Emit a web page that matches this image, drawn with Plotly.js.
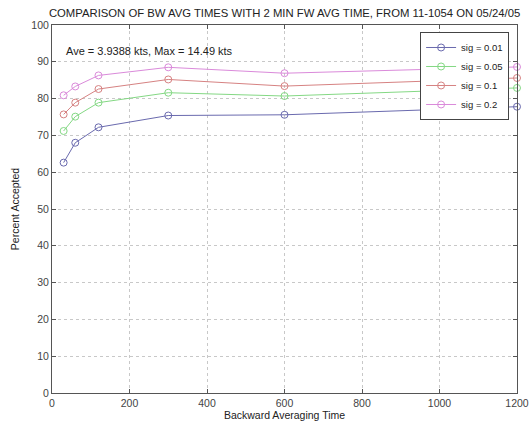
<!DOCTYPE html>
<html>
<head>
<meta charset="utf-8">
<script src="https://cdn.plot.ly/plotly-3.0.1.min.js"></script>
<style>html,body{margin:0;padding:0;background:#fff;}#chart{width:531px;height:421px;}</style>
</head>
<body>
<div id="chart"></div>
<script>
const bwTimes = [30, 60, 120, 300, 600, 1200];
const sig001 = [62.6, 68.0, 72.2, 75.4, 75.6, 77.8];
const sig005 = [71.2, 75.1, 78.9, 81.6, 80.7, 82.9];
const sig01  = [75.7, 78.9, 82.6, 85.2, 83.4, 85.6];
const sig02  = [80.9, 83.3, 86.3, 88.5, 86.9, 88.6];
const seriesNames = ['sig = 0.01', 'sig = 0.05', 'sig = 0.1', 'sig = 0.2'];
const seriesColors = ['#6a6aae', '#84d884', '#d68282', '#da8ada'];
const xTicks = [0, 200, 400, 600, 800, 1000, 1200];
const yTicks = [0, 10, 20, 30, 40, 50, 60, 70, 80, 90, 100];
const titleText = 'COMPARISON OF BW AVG TIMES WITH 2 MIN FW AVG TIME, FROM 11-1054 ON 05/24/05';
const noteText = 'Ave = 3.9388 kts, Max = 14.49 kts';

const allSeries = [sig001, sig005, sig01, sig02];
const traces = allSeries.map((ys, i) => ({
  x: bwTimes, y: ys, name: seriesNames[i], type: 'scatter', mode: 'lines+markers', cliponaxis: false,
  line: {color: seriesColors[i], width: 1},
  marker: {symbol: 'circle-open', size: 7, color: seriesColors[i], line: {width: 1, color: seriesColors[i]}}
}));

const fontFam = 'Liberation Sans, Arial, sans-serif';
const layout = {
  width: 531, height: 421,
  paper_bgcolor: '#fff', plot_bgcolor: '#fff',
  margin: {l: 52, r: 14, t: 25, b: 28},
  font: {family: fontFam, size: 10, color: '#333'},
  title: {text: titleText, font: {family: fontFam, size: 11.3, color: '#222'}, x: 0.536, xanchor: 'center', y: 0.968, yanchor: 'middle'},
  showlegend: true,
  legend: {x: 0.983, xanchor: 'right', y: 0.981, yanchor: 'top', bgcolor: '#fff', bordercolor: '#444', borderwidth: 1,
    font: {family: fontFam, size: 9.5, color: '#222'}, tracegroupgap: 0, itemwidth: 30},
  xaxis: {range: [0, 1200], tickvals: xTicks, ticktext: xTicks.map(String), showgrid: true,
    gridcolor: '#c8c8c8', griddash: 'dot', gridwidth: 1, zeroline: false, showline: true, linecolor: '#555', mirror: 'ticks',
    ticks: 'inside', ticklen: 4, tickcolor: '#555',
    title: {text: 'Backward Averaging Time', font: {family: fontFam, size: 10.5, color: '#222'}, standoff: 3},
    tickfont: {size: 10.5, color: '#444'}},
  yaxis: {range: [0, 100], tickvals: yTicks, ticktext: yTicks.map(String), showgrid: true,
    gridcolor: '#c8c8c8', griddash: 'dot', gridwidth: 1, zeroline: false, showline: true, linecolor: '#555', mirror: 'ticks',
    ticks: 'inside', ticklen: 4, tickcolor: '#555',
    title: {text: 'Percent Accepted', font: {family: fontFam, size: 10.5, color: '#222'}, standoff: 9},
    tickfont: {size: 10.5, color: '#444'}},
  annotations: [{text: noteText, xref: 'x', yref: 'y', x: 30, y: 92.9, xanchor: 'left', yanchor: 'middle', showarrow: false,
    font: {family: fontFam, size: 11, color: '#222'}}]
};
Plotly.newPlot('chart', traces, layout, {displayModeBar: false, staticPlot: true});
</script>
</body>
</html>
